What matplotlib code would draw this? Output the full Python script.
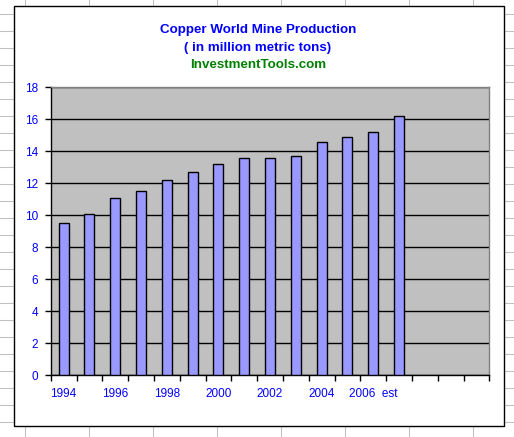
import numpy as np
import matplotlib
matplotlib.use("Agg")
import matplotlib.pyplot as plt
from matplotlib.lines import Line2D
from matplotlib.patches import Rectangle

# copper world mine production, million metric tons (1994 .. 2006, then estimate)
production = [9.5, 10.1, 11.1, 11.5, 12.2, 12.7, 13.2, 13.6, 13.6, 13.7, 14.6, 14.9, 15.2, 16.2]
tick_labels = ["1994", "1996", "1998", "2000", "2002", "2004", "2006  est"]
n_slots = 17  # excel keeps empty categories on the right
y_ticks = list(range(0, 20, 2))

plt.rcParams['font.family'] = ['Liberation Sans', 'DejaVu Sans']

W, H = 514, 437
fig = plt.figure(figsize=(W / 100, H / 100), dpi=100)
fig.patch.set_facecolor("white")

# spreadsheet behind the chart
bg = fig.add_axes([0, 0, 1, 1])
bg.set_xlim(0, W)
bg.set_ylim(H, 0)
bg.axis("off")
for x in np.arange(24.5, W, 64):
    bg.add_line(Line2D([x, x], [0, H], color="#c0c0c0", lw=0.75, zorder=1))
for y in np.arange(13.5, H, 17):
    bg.add_line(Line2D([0, W], [y, y], color="#c0c0c0", lw=0.75, zorder=1))
# chart box with little shadow
bg.add_patch(Rectangle((14.5, 7), 490, 420, facecolor="black", edgecolor="none", zorder=3))
bg.add_patch(Rectangle((13.5, 6), 490, 420, facecolor="white", edgecolor="black", lw=1, zorder=4))

fig.text(0.502, 1 - 30 / H, "Copper World Mine Production", color="#0000ff",
         fontsize=9.6, fontweight="bold", ha="center", va="center")
fig.text(0.502, 1 - 48.5 / H, "( in million metric tons)", color="#0000ff",
         fontsize=9.6, fontweight="bold", ha="center", va="center")
fig.text(0.502, 1 - 65 / H, "InvestmentTools.com", color="#008000",
         fontsize=9.6, fontweight="bold", ha="center", va="center")

ax = fig.add_axes([50.7 / W, 1 - 375.3 / H, (489.3 - 50.7) / W, (375.3 - 87.3) / H])
ax.set_facecolor("#c0c0c0")
x = np.arange(len(production))
ax.bar(x, production, width=0.39, color="#9999ff", edgecolor="black", linewidth=1, zorder=3)

ax.set_xlim(-0.5, n_slots - 0.5)
ax.set_ylim(0, 18)
ax.set_yticks(y_ticks)
ax.yaxis.grid(True, color="black", lw=1, zorder=1)
ax.set_axisbelow(True)

ax.set_xticks(np.arange(0, 2 * len(tick_labels), 2))
ax.set_xticklabels(tick_labels)
ax.set_xticks(np.arange(-0.5, n_slots, 1), minor=True)
ax.tick_params(axis="x", which="major", length=0, pad=9, labelsize=8.5, labelcolor="#0000ff")
ax.tick_params(axis="x", which="minor", length=4, width=1, color="black", direction="out")
ax.tick_params(axis="y", length=4, width=1, color="black", labelsize=8.5, labelcolor="#0000ff", pad=5)

for s in ["top", "right"]:
    ax.spines[s].set_color("#808080")
for s in ["left", "bottom"]:
    ax.spines[s].set_color("black")
for s in ax.spines.values():
    s.set_linewidth(1)

fig.savefig("out.png", dpi=100)
